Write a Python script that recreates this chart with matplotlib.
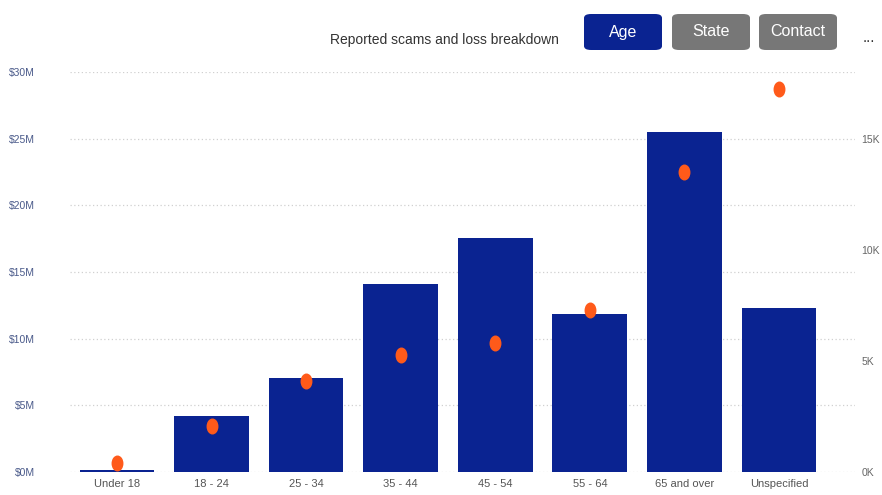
import numpy as np
import matplotlib.pyplot as plt
from matplotlib.path import Path
from matplotlib.patches import FancyBboxPatch

plt.rcParams['font.family'] = ['Liberation Sans', 'DejaVu Sans']

categories = ['Under 18', '18 - 24', '25 - 34', '35 - 44', '45 - 54', '55 - 64', '65 and over', 'Unspecified']
losses_m = [0.15, 4.2, 7.05, 14.1, 17.55, 11.85, 25.5, 12.3]
reports_k = [0.4, 2.06, 4.1, 5.25, 5.8, 7.3, 13.5, 17.25]
left_ticks = [0, 5, 10, 15, 20, 25, 30]
right_ticks = [0, 5, 10, 15]

bar_color = '#0a2391'
dot_color = '#ff5a1a'
grid_color = '#d0d0d0'

fig = plt.figure(figsize=(8.82, 4.95), dpi=100)
ax = fig.add_axes([0.079, 0.0465, 0.89, 0.808])
ax2 = ax.twinx()

x = np.arange(len(categories))
ax.bar(x, losses_m, width=0.79, color=bar_color, zorder=2)

# oval markers (the original is squeezed horizontally)
circ = Path.unit_circle()
oval = Path(circ.vertices * np.array([0.72, 1.0]), circ.codes)
ax2.scatter(x, reports_k, marker=oval, s=110, color=dot_color, zorder=3)

ax.set_xlim(-0.5, 7.8)
ax.set_ylim(0, 30)
ax2.set_ylim(0, 18)
ax.set_yticks(left_ticks)
ax.set_yticklabels(['$%dM' % v for v in left_ticks])
ax2.set_yticks(right_ticks)
ax2.set_yticklabels(['%dK' % v for v in right_ticks])
ax.set_xticks(x)
ax.set_xticklabels(categories)

for v in left_ticks:
    ax.axhline(v, color=grid_color, linestyle=(0, (1, 2)), linewidth=0.9, zorder=0)

for a in (ax, ax2):
    for s in a.spines.values():
        s.set_visible(False)
ax.set_zorder(ax2.get_zorder() - 1)
ax.patch.set_visible(False)
ax2.patch.set_visible(False)

ax.tick_params(axis='y', length=0, labelsize=7.5, labelcolor='#4a5a8a', pad=25)
ax.tick_params(axis='x', length=0, labelsize=8, labelcolor='#555555', pad=5)
ax2.tick_params(axis='y', length=0, labelsize=7.5, labelcolor='#666666', pad=5)

# title and slicer buttons
fig.text(444 / 882, 1 - 40 / 495, 'Reported scams and loss breakdown', ha='center', va='center',
         fontsize=10, color='#333333')
buttons = [('Age', 584, '#0a2391'), ('State', 672, '#777777'), ('Contact', 759, '#777777')]
for label, x0, col in buttons:
    bx = FancyBboxPatch((x0 / 882, 1 - 50 / 495), 78 / 882, 36 / 495,
                        boxstyle='round,pad=0,rounding_size=0.008',
                        transform=fig.transFigure, facecolor=col, edgecolor='none')
    fig.patches.append(bx)
    fig.text((x0 + 39) / 882, 1 - 32 / 495, label, ha='center', va='center',
             fontsize=11.5, color='white')
fig.text(0.985, 1 - 38 / 495, '...', ha='center', va='center', fontsize=11, color='#333333')

fig.savefig('out.png', dpi=100)
